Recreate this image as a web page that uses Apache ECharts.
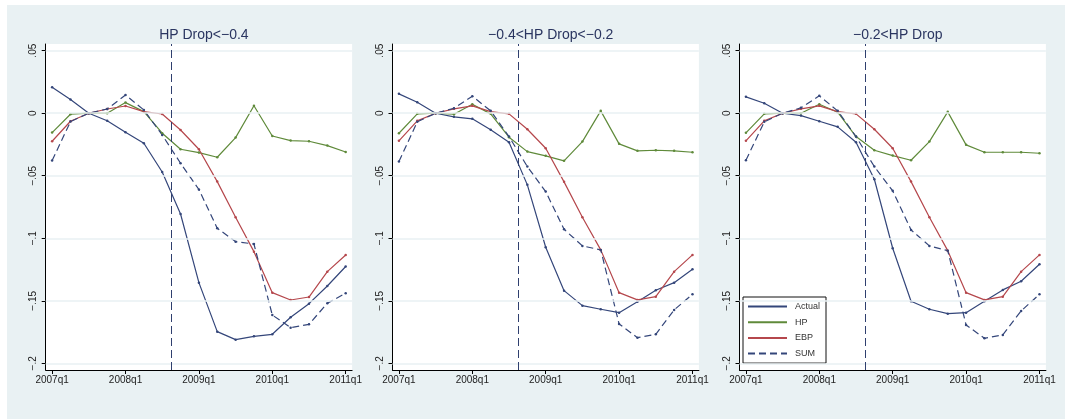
<!DOCTYPE html>
<html>
<head>
<meta charset="utf-8">
<script src="https://cdn.jsdelivr.net/npm/echarts@6/dist/echarts.min.js"></script>
<style>
  html, body { margin: 0; padding: 0; background: #ffffff; }
  #backdrop { position: absolute; left: 7px; top: 5px; width: 1058px; height: 414px; background: #e9f1f3; }
  #chart { position: absolute; left: 0; top: 0; width: 1065px; height: 419px; }
</style>
</head>
<body>
<div id="backdrop"></div>
<div id="chart"></div>
<script>
// Quarters are counted from 2007q1 (= 0) to 2011q1 (= 16)
const quarters = [0,1,2,3,4,5,6,7,8,9,10,11,12,13,14,15,16];
const xTickValues = [0, 4, 8, 12, 16];
const xTickLabels = ['2007q1', '2008q1', '2009q1', '2010q1', '2011q1'];
const yTickValues = [-0.2, -0.15, -0.1, -0.05, 0, 0.05];
const yTickLabels = ['\u2212.2', '\u2212.15', '\u2212.1', '\u2212.05', '0', '.05'];
const eventQuarter = 6.5;

const panelTitles = ['HP Drop<\u22120.4', '\u22120.4<HP Drop<\u22120.2', '\u22120.2<HP Drop'];

// HP Drop < -0.4
const actual1 = [0.0208, 0.0109, 0.0000, -0.0060, -0.0152, -0.0240, -0.0470, -0.0806, -0.1355, -0.1747, -0.1811, -0.1784, -0.1768, -0.1632, -0.1523, -0.1382, -0.1226];
const hp1     = [-0.0155, -0.0008, 0.0000, 0.0000, 0.0085, 0.0013, -0.0160, -0.0288, -0.0315, -0.0352, -0.0195, 0.0060, -0.0182, -0.0219, -0.0224, -0.0259, -0.0310];
const ebp1    = [-0.0224, -0.0064, 0.0000, 0.0034, 0.0058, 0.0013, -0.0006, -0.0134, -0.0288, -0.0547, -0.0832, -0.1107, -0.1435, -0.1494, -0.1470, -0.1267, -0.1134];
const sum1    = [-0.0379, -0.0067, 0.0000, 0.0034, 0.0146, 0.0026, -0.0174, -0.0400, -0.0610, -0.0920, -0.1027, -0.1046, -0.1614, -0.1715, -0.1688, -0.1520, -0.1440];

// -0.4 < HP Drop < -0.2
const actual2 = [0.0155, 0.0088, 0.0000, -0.0029, -0.0045, -0.0133, -0.0232, -0.0573, -0.1072, -0.1419, -0.1539, -0.1568, -0.1595, -0.1507, -0.1416, -0.1355, -0.1248];
const hp2     = [-0.0160, -0.0005, 0.0000, -0.0008, 0.0072, -0.0005, -0.0192, -0.0307, -0.0341, -0.0381, -0.0227, 0.0019, -0.0245, -0.0301, -0.0296, -0.0301, -0.0312];
const ebp2    = [-0.0221, -0.0061, 0.0000, 0.0035, 0.0059, 0.0013, -0.0005, -0.0128, -0.0280, -0.0549, -0.0832, -0.1093, -0.1435, -0.1493, -0.1467, -0.1267, -0.1133];
const sum2    = [-0.0387, -0.0069, 0.0000, 0.0040, 0.0136, 0.0019, -0.0187, -0.0427, -0.0627, -0.0928, -0.1061, -0.1093, -0.1685, -0.1795, -0.1768, -0.1573, -0.1448];

// -0.2 < HP Drop
const actual3 = [0.0131, 0.0080, 0.0000, -0.0019, -0.0064, -0.0109, -0.0232, -0.0528, -0.1080, -0.1504, -0.1568, -0.1603, -0.1595, -0.1504, -0.1413, -0.1344, -0.1208];
const hp3     = [-0.0157, -0.0005, 0.0000, 0.0000, 0.0072, 0.0008, -0.0187, -0.0296, -0.0339, -0.0376, -0.0227, 0.0011, -0.0253, -0.0312, -0.0312, -0.0312, -0.0320];
const ebp3    = [-0.0221, -0.0061, 0.0000, 0.0035, 0.0059, 0.0013, -0.0005, -0.0128, -0.0280, -0.0547, -0.0832, -0.1099, -0.1435, -0.1493, -0.1467, -0.1267, -0.1133];
const sum3    = [-0.0376, -0.0069, 0.0000, 0.0043, 0.0139, 0.0019, -0.0187, -0.0427, -0.0621, -0.0933, -0.1061, -0.1099, -0.1693, -0.1800, -0.1773, -0.1581, -0.1448];

const panels = [
  { actual: actual1, hp: hp1, ebp: ebp1, sum: sum1 },
  { actual: actual2, hp: hp2, ebp: ebp2, sum: sum2 },
  { actual: actual3, hp: hp3, ebp: ebp3, sum: sum3 }
];

const COLORS = { actual: '#34467a', hp: '#5f8a3a', ebp: '#b5474c', sum: '#34467a' };
const FONT = '"Liberation Sans", Arial, sans-serif';

const gridLefts = [45.7, 392.5, 739.5];
const gridWidth = 306.4;
const gridTop = 44;
const gridHeight = 326;

const pairs = vals => quarters.map((q, i) => [q, vals[i]]);

const grids = [], xAxes = [], yAxes = [], titles = [], series = [];

panels.forEach((p, i) => {
  grids.push({
    left: gridLefts[i], top: gridTop, width: gridWidth, height: gridHeight,
    show: true, backgroundColor: '#ffffff', borderWidth: 0, containLabel: false
  });
  titles.push({
    text: panelTitles[i],
    left: gridLefts[i] + gridWidth / 2, top: 23, textAlign: 'center',
    textStyle: { fontFamily: FONT, fontSize: 14, fontWeight: 'normal', color: '#2a3560' }
  });
  xAxes.push({
    gridIndex: i, type: 'value', min: -0.35, max: 16.35,
    axisLine: { show: true, onZero: false, lineStyle: { color: '#000', width: 1 } },
    axisTick: { show: true, length: 4, customValues: xTickValues, lineStyle: { color: '#000' } },
    axisLabel: {
      customValues: xTickValues, margin: 5,
      fontFamily: FONT, fontSize: 10, color: '#222',
      formatter: v => xTickLabels[xTickValues.indexOf(Math.round(v))] || ''
    },
    splitLine: { show: false }
  });
  yAxes.push({
    gridIndex: i, type: 'value', min: -0.20536, max: 0.05536,
    axisLine: { show: true, onZero: false, lineStyle: { color: '#000', width: 1 } },
    axisTick: { show: true, length: 4, customValues: yTickValues, lineStyle: { color: '#000' } },
    axisLabel: {
      customValues: yTickValues, rotate: 90, margin: 7,
      fontFamily: FONT, fontSize: 10, color: '#222',
      formatter: v => {
        let k = 0;
        yTickValues.forEach((t, j) => { if (Math.abs(t - v) < Math.abs(yTickValues[k] - v)) k = j; });
        return yTickLabels[k];
      }
    },
    splitLine: { show: false }
  });

  // reference lines: horizontal grid at each tick and the dashed event marker
  series.push({
    type: 'line', xAxisIndex: i, yAxisIndex: i, data: [], silent: true, z: 1,
    markLine: {
      silent: true, symbol: ['none', 'none'], animation: false,
      label: { show: false },
      data: yTickValues.map(v => ({ yAxis: v, lineStyle: { color: '#e9f1f3', width: 1.5, type: 'solid' } }))
        .concat([{ xAxis: eventQuarter, lineStyle: { color: '#2f3f6e', width: 1, type: [8, 4] } }])
    }
  });

  const lineSeries = (name, vals, color, dashed) => ({
    name, type: 'line', xAxisIndex: i, yAxisIndex: i, data: pairs(vals),
    symbol: 'circle', symbolSize: 2.5, showSymbol: true, z: 3,
    itemStyle: { color },
    lineStyle: { color, width: 1.2, type: dashed ? [7, 4] : 'solid' }
  });
  series.push(lineSeries('Actual', p.actual, COLORS.actual, false));
  series.push(lineSeries('HP', p.hp, COLORS.hp, false));
  series.push(lineSeries('EBP', p.ebp, COLORS.ebp, false));
  series.push(lineSeries('SUM', p.sum, COLORS.sum, true));
});

const chart = echarts.init(document.getElementById('chart'), null, { renderer: 'canvas' });
chart.setOption({
  animation: false,
  backgroundColor: 'transparent',
  title: titles,
  grid: grids,
  xAxis: xAxes,
  yAxis: yAxes,
  legend: {
    data: ['Actual', 'HP', 'EBP', 'SUM'],
    orient: 'vertical',
    left: 743, top: 297,
    itemWidth: 39, itemHeight: 10, itemGap: 6.7,
    padding: [5, 6, 5, 4],
    backgroundColor: '#ffffff',
    borderColor: '#111111', borderWidth: 1, borderRadius: 0,
    itemStyle: { opacity: 0 },
    textStyle: { fontFamily: FONT, fontSize: 9, color: '#333', padding: [0, 0, 0, 3] },
    selectedMode: false
  },
  series
});
</script>
</body>
</html>
